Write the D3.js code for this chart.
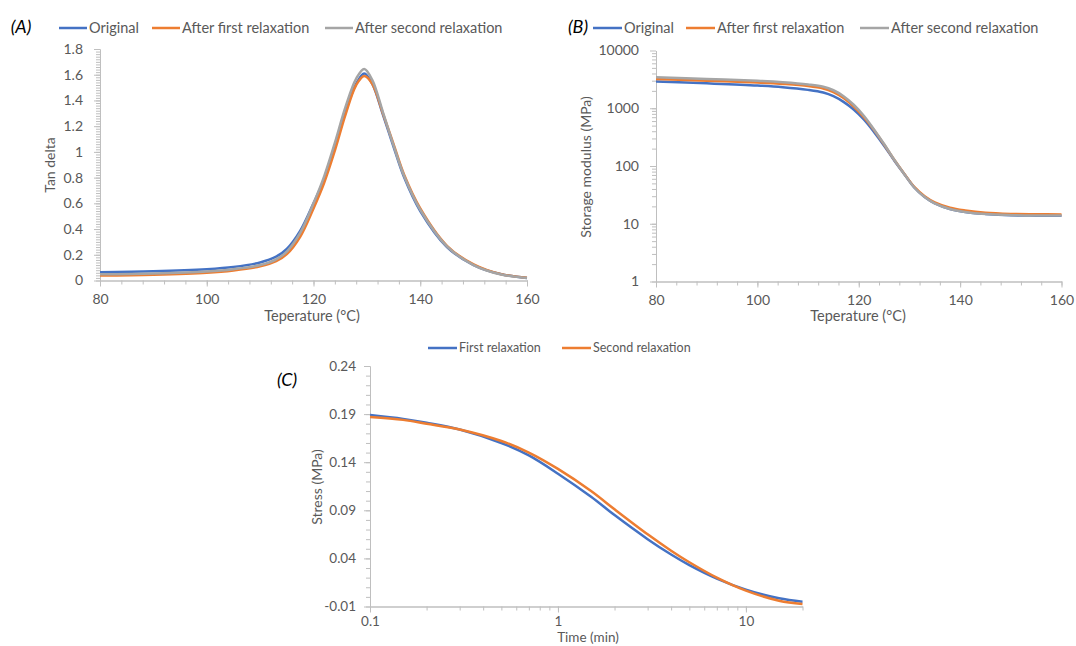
<!DOCTYPE html>
<html>
<head>
<meta charset="utf-8">
<script src="https://cdn.jsdelivr.net/npm/d3@7"></script>
<style>
  body { margin: 0; background: #fff; }
  svg { font-family: Lato, "Open Sans", sans-serif; }
</style>
</head>
<body>
<svg width="1076" height="646"></svg>
<script>
// panel A: tan delta vs temperature
const tempA = [80, 90, 100, 105, 110, 113, 115, 117.5, 120, 122, 124, 126, 128, 129.5, 131, 133, 135, 137, 140, 145, 150, 155, 160];
const tanOriginal = [0.065, 0.072, 0.088, 0.105, 0.14, 0.185, 0.245, 0.385, 0.60, 0.79, 1.04, 1.31, 1.53, 1.61, 1.53, 1.29, 1.04, 0.80, 0.54, 0.26, 0.12, 0.05, 0.02];
const tanFirst = [0.038, 0.045, 0.06, 0.078, 0.11, 0.15, 0.205, 0.34, 0.56, 0.76, 1.01, 1.29, 1.52, 1.59, 1.53, 1.30, 1.06, 0.82, 0.56, 0.27, 0.125, 0.05, 0.022];
const tanSecond = [0.048, 0.055, 0.07, 0.088, 0.12, 0.165, 0.225, 0.37, 0.60, 0.81, 1.07, 1.35, 1.57, 1.645, 1.56, 1.31, 1.05, 0.81, 0.55, 0.265, 0.12, 0.048, 0.02];
const tanTicks = [0, 0.2, 0.4, 0.6, 0.8, 1, 1.2, 1.4, 1.6, 1.8];

// panel B: storage modulus vs temperature
const tempB = [80, 90, 100, 105, 110, 113, 115, 117, 119, 121, 123, 125, 127, 129, 131, 133, 135, 138, 141, 145, 150, 155, 160];
const modOriginal = [2900, 2700, 2480, 2320, 2080, 1870, 1620, 1290, 950, 640, 390, 225, 125, 72, 42, 29, 22.5, 18, 16, 14.8, 14, 13.8, 13.7];
const modFirst = [3200, 3000, 2790, 2640, 2430, 2200, 1900, 1500, 1070, 700, 420, 235, 128, 73, 43, 30, 23.5, 19, 17, 15.5, 14.8, 14.6, 14.5];
const modSecond = [3450, 3220, 2990, 2820, 2580, 2360, 2050, 1620, 1150, 740, 430, 240, 128, 72, 42, 29, 22.5, 18, 16, 14.7, 14.1, 13.9, 13.9];
const modTicks = [1, 10, 100, 1000, 10000];

const tempTicks = [80, 100, 120, 140, 160];

// panel C: stress relaxation
const timeC = [0.1, 0.15, 0.2, 0.3, 0.5, 0.7, 1, 1.5, 2, 3, 4, 5, 7, 10, 15, 20];
const stressFirst = [0.189, 0.185, 0.181, 0.174, 0.160, 0.147, 0.128, 0.104, 0.085, 0.060, 0.044, 0.033, 0.019, 0.0075, -0.0015, -0.005];
const stressSecond = [0.187, 0.184, 0.180, 0.174, 0.162, 0.150, 0.133, 0.110, 0.091, 0.065, 0.048, 0.036, 0.020, 0.0065, -0.004, -0.0075];
const stressTicks = [-0.01, 0.04, 0.09, 0.14, 0.19, 0.24];
const timeTicks = [0.1, 1, 10];

const seriesNames = ["Original", "After first relaxation", "After second relaxation"];
const colors = ["#4472C4", "#ED7D31", "#A5A5A5"];

const svg = d3.select("svg");
const axisColor = "#BFBFBF";
const textColor = "#595959";

function styleAxis(g, fontSize) {
  g.select(".domain").attr("stroke", axisColor);
  g.selectAll(".tick line").attr("stroke", axisColor);
  g.selectAll(".tick text").attr("fill", textColor).style("font-size", fontSize + "px").style("font-family", "Lato, sans-serif");
}

function drawAxes(x, y, xTicks, xMinor, yTicks, yMinor, xFmt, yFmt, fs, yPad, xPad) {
  const x0 = x.range()[0];
  const y0 = y.range()[0];
  const gxm = svg.append("g").attr("transform", `translate(0,${y0})`)
    .call(d3.axisBottom(x).tickValues(xMinor).tickFormat("").tickSize(4).tickSizeOuter(0));
  styleAxis(gxm, fs);
  const gym = svg.append("g").attr("transform", `translate(${x0},0)`)
    .call(d3.axisLeft(y).tickValues(yMinor).tickFormat("").tickSize(4).tickSizeOuter(0));
  styleAxis(gym, fs);
  const gx = svg.append("g").attr("transform", `translate(0,${y0})`)
    .call(d3.axisBottom(x).tickValues(xTicks).tickFormat(xFmt).tickSize(6).tickSizeOuter(0).tickPadding(xPad));
  styleAxis(gx, fs);
  const gy = svg.append("g").attr("transform", `translate(${x0},0)`)
    .call(d3.axisLeft(y).tickValues(yTicks).tickFormat(yFmt).tickSize(6).tickSizeOuter(0).tickPadding(yPad));
  styleAxis(gy, fs);
}

function drawLines(x, y, xs, list, cols, width) {
  const line = d3.line().x((d, i) => x(xs[i])).y(d => y(d)).curve(d3.curveCatmullRom.alpha(0.5));
  list.forEach((vals, k) => {
    svg.append("path").datum(vals).attr("fill", "none").attr("stroke", cols[k])
      .attr("stroke-width", width).attr("stroke-linejoin", "round").attr("d", line);
  });
}

function legend(items, cols, positions, ly, fs, lineLen) {
  items.forEach((name, i) => {
    const lx = positions[i];
    svg.append("line").attr("x1", lx).attr("x2", lx + lineLen).attr("y1", ly).attr("y2", ly)
      .attr("stroke", cols[i]).attr("stroke-width", 2.5);
    svg.append("text").attr("x", lx + lineLen + 2).attr("y", ly).attr("dy", "0.35em")
      .attr("fill", textColor).style("font-size", fs + "px").text(name);
  });
}

function label(txt, x, y, fs, rot, color, italic) {
  const t = svg.append("text").attr("text-anchor", "middle").attr("dy", "0.35em")
    .attr("fill", color || textColor).style("font-size", fs + "px").text(txt);
  if (italic) t.style("font-style", "italic");
  if (rot) t.attr("transform", `translate(${x},${y}) rotate(-90)`);
  else t.attr("x", x).attr("y", y);
}

function range(a, b, s) { const r = []; for (let v = a; v <= b + 1e-9; v += s) r.push(+v.toFixed(4)); return r; }
function logMinor(lo, hi) {
  const r = [];
  for (let e = Math.floor(Math.log10(lo)); e < Math.ceil(Math.log10(hi)); e++)
    for (let m = 1; m <= 9; m++) { const v = m * Math.pow(10, e); if (v >= lo - 1e-9 && v <= hi + 1e-9) r.push(v); }
  return r;
}

// ---- Panel A
const xA = d3.scaleLinear().domain([80, 160]).range([100, 527]);
const yA = d3.scaleLinear().domain([0, 1.8]).range([280.5, 49]);
drawAxes(xA, yA, tempTicks, range(80, 160, 4), tanTicks, range(0, 1.8, 0.02), d3.format("d"), d => String(+d.toFixed(1)), 14, 11, 8);
drawLines(xA, yA, tempA, [tanOriginal, tanFirst, tanSecond], colors, 2.5);
legend(seriesNames, colors, [59, 152, 325], 28, 14.5, 28);
label("(A)", 21, 27, 18, false, "#000", true);
label("Tan delta", 50, 165, 14, true);
label("Teperature (°C)", 312, 316, 14.5);

// ---- Panel B
const xB = d3.scaleLinear().domain([80, 160]).range([656, 1061.5]);
const yB = d3.scaleLog().domain([1, 10000]).range([281.5, 50.5]);
drawAxes(xB, yB, tempTicks, range(80, 160, 4), modTicks, logMinor(1, 10000), d3.format("d"), d3.format("d"), 14, 11, 8);
drawLines(xB, yB, tempB, [modOriginal, modFirst, modSecond], colors, 2.5);
legend(seriesNames, colors, [593, 686, 860], 28, 14.5, 29);
label("(B)", 578, 27, 18, false, "#000", true);
label("Storage modulus (MPa)", 586, 167, 14, true);
label("Teperature (°C)", 858, 316, 14.5);

// ---- Panel C
const xC = d3.scaleLog().domain([0.1, 20]).range([370, 802.5]);
const yC = d3.scaleLinear().domain([-0.01, 0.24]).range([606.5, 366]);
drawAxes(xC, yC, timeTicks, logMinor(0.1, 20), stressTicks, range(-0.01, 0.24, 0.01), d => String(d), d => d.toFixed(2), 13.5, 8, 4);
drawLines(xC, yC, timeC, [stressFirst, stressSecond], colors, 2.5);
legend(["First relaxation", "Second relaxation"], colors, [428, 562], 348, 12.5, 29);
label("(C)", 287, 380, 18, false, "#000", true);
label("Stress (MPa)", 317, 487, 14, true);
label("Time (min)", 588, 637, 13.5);
</script>
</body>
</html>
